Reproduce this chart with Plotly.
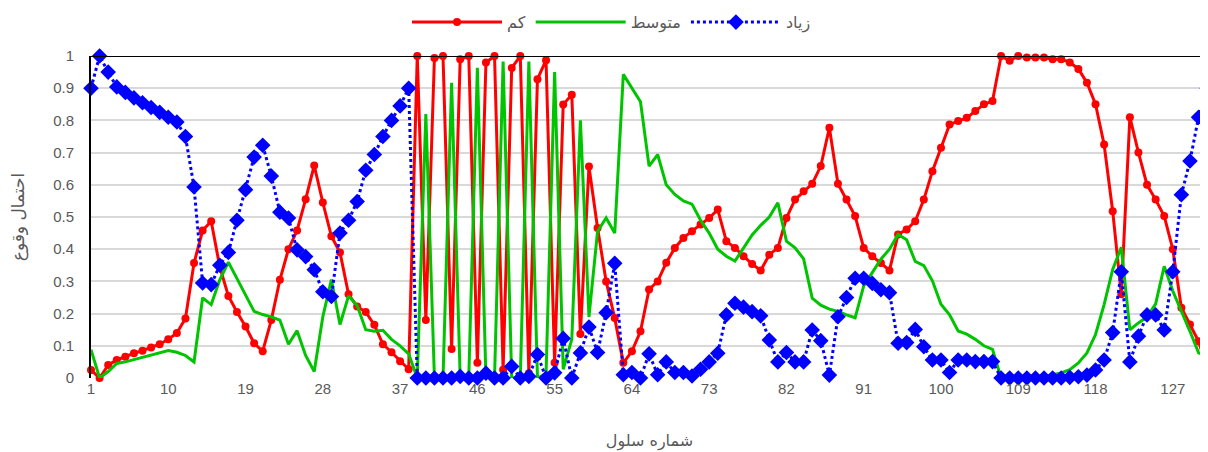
import plotly.graph_objects as go

cells = list(range(1, 132))

low = [0.025, 0.0, 0.04, 0.056, 0.066, 0.077, 0.085, 0.095, 0.105, 0.12,
       0.14, 0.185, 0.357, 0.458, 0.487, 0.345, 0.255, 0.205, 0.16, 0.108,
       0.083, 0.18, 0.305, 0.40, 0.458, 0.555, 0.66, 0.545, 0.44, 0.39,
       0.26, 0.222, 0.205, 0.165, 0.105, 0.08, 0.052, 0.027, 1.0, 0.18,
       0.994, 1.0, 0.09, 0.99, 1.0, 0.047, 0.98, 1.0, 0.026, 0.963,
       1.0, 0.015, 0.928, 0.987, 0.047, 0.849, 0.88, 0.137, 0.657, 0.466,
       0.30, 0.186, 0.047, 0.083, 0.145, 0.275, 0.30, 0.358, 0.404, 0.435,
       0.456, 0.477, 0.497, 0.523, 0.425, 0.404, 0.378, 0.354, 0.334, 0.383,
       0.404, 0.497, 0.554, 0.58, 0.603, 0.658, 0.777, 0.603, 0.554, 0.503,
       0.404, 0.378, 0.357, 0.334, 0.446, 0.461, 0.487, 0.554, 0.642, 0.715,
       0.787, 0.798, 0.808, 0.829, 0.85, 0.86, 1.0, 0.985, 1.0, 0.995,
       0.995, 0.995, 0.99, 0.99, 0.98, 0.96, 0.917, 0.85, 0.725, 0.518,
       0.26, 0.81, 0.70, 0.60, 0.554, 0.503, 0.40, 0.218, 0.166, 0.114,
       0.03]

medium = [0.088, 0.0, 0.02, 0.045, 0.05, 0.057, 0.062, 0.07, 0.078, 0.085,
          0.08, 0.07, 0.05, 0.249, 0.228, 0.305, 0.36, 0.31, 0.26, 0.207,
          0.197, 0.19, 0.18, 0.105, 0.147, 0.07, 0.02, 0.19, 0.306, 0.166,
          0.255, 0.225, 0.15, 0.145, 0.148, 0.12, 0.10, 0.075, 0.0, 0.82,
          0.0, 0.0, 0.917, 0.0, 0.0, 0.963, 0.0, 0.0, 0.983, 0.0,
          0.0, 0.983, 0.0, 0.013, 0.95, 0.027, 0.12, 0.80, 0.19, 0.456,
          0.497, 0.45, 0.943, 0.90, 0.858, 0.658, 0.694, 0.60, 0.57, 0.55,
          0.54, 0.49, 0.45, 0.40, 0.378, 0.363, 0.404, 0.444, 0.474, 0.50,
          0.544, 0.425, 0.404, 0.37, 0.248, 0.226, 0.214, 0.207, 0.196, 0.187,
          0.286, 0.328, 0.369, 0.40, 0.446, 0.429, 0.362, 0.349, 0.302, 0.229,
          0.196, 0.146, 0.136, 0.12, 0.10, 0.089, 0.0, 0.01, 0.0, 0.005,
          0.005, 0.005, 0.01, 0.016, 0.026, 0.047, 0.078, 0.135, 0.228, 0.337,
          0.406, 0.15, 0.171, 0.19, 0.23, 0.347, 0.27, 0.21, 0.145, 0.078,
          0.07]

high = [0.90, 1.0, 0.95, 0.904, 0.887, 0.87, 0.855, 0.84, 0.825, 0.81,
        0.795, 0.75, 0.593, 0.295, 0.29, 0.35, 0.39, 0.49, 0.585, 0.686,
        0.723, 0.627, 0.515, 0.497, 0.398, 0.377, 0.336, 0.268, 0.253, 0.45,
        0.49, 0.548, 0.645, 0.694, 0.75, 0.80, 0.845, 0.90, 0.0, 0.0,
        0.0, 0.0, 0.0, 0.005, 0.0, 0.0, 0.015, 0.0, 0.0, 0.036,
        0.0, 0.005, 0.073, 0.0, 0.016, 0.123, 0.0, 0.078, 0.158, 0.079,
        0.203, 0.356, 0.01, 0.017, 0.0, 0.075, 0.01, 0.05, 0.017, 0.017,
        0.006, 0.027, 0.05, 0.077, 0.196, 0.232, 0.22, 0.206, 0.193, 0.118,
        0.05, 0.079, 0.05, 0.05, 0.149, 0.116, 0.009, 0.19, 0.25, 0.31,
        0.31, 0.294, 0.274, 0.265, 0.108, 0.11, 0.151, 0.097, 0.056, 0.056,
        0.017, 0.056, 0.056, 0.051, 0.051, 0.051, 0.0, 0.0, 0.0, 0.0,
        0.0, 0.0, 0.0, 0.0, 0.002, 0.004, 0.009, 0.025, 0.056, 0.141,
        0.33, 0.05, 0.13, 0.196, 0.196, 0.149, 0.33, 0.569, 0.674, 0.81,
        0.90]

x_ticks = [1, 10, 19, 28, 37, 46, 55, 64, 73, 82, 91, 100, 109, 118, 127]
y_ticks = [0, 0.1, 0.2, 0.3, 0.4, 0.5, 0.6, 0.7, 0.8, 0.9, 1]
y_labels = ["0", "0.1", "0.2", "0.3", "0.4", "0.5", "0.6", "0.7", "0.8", "0.9", "1"]

name_low = "کم"
name_med = "متوسط"
name_high = "زیاد"
x_title = "شماره سلول"
y_title = "احتمال وقوع"

fig = go.Figure()
fig.add_trace(go.Scatter(
    x=cells, y=low, name=name_low, mode="lines+markers",
    line=dict(color="#FF0000", width=3),
    marker=dict(symbol="circle", size=8, color="#FF0000"),
    cliponaxis=False))
fig.add_trace(go.Scatter(
    x=cells, y=medium, name=name_med, mode="lines",
    line=dict(color="#00C400", width=3),
    cliponaxis=False))
fig.add_trace(go.Scatter(
    x=cells, y=high, name=name_high, mode="lines+markers",
    line=dict(color="#0000FF", width=3, dash="dot"),
    marker=dict(symbol="diamond", size=12, color="#0000FF"),
    cliponaxis=False))

fig.add_shape(type="line", xref="paper", yref="y", x0=0, x1=1, y0=1, y1=1,
              line=dict(color="black", width=2))

fig.update_layout(
    width=1200, height=444,
    margin=dict(l=83, r=0, t=48, b=74, autoexpand=False),
    plot_bgcolor="white", paper_bgcolor="white",
    font=dict(family="Liberation Sans Narrow, Liberation Sans, DejaVu Sans", color="#595959", size=15),
    showlegend=True,
    legend=dict(orientation="h", x=0.466, xanchor="center", y=1.105, yanchor="middle",
                font=dict(family="DejaVu Sans", size=16, color="#595959"),
                itemwidth=90, traceorder="normal", bgcolor="rgba(0,0,0,0)"),
    xaxis=dict(range=[1, 131.1], tickmode="array", tickvals=x_ticks,
               showgrid=False, zeroline=False, showline=False, ticks="",
               automargin=False,
               title=dict(text=x_title, font=dict(family="DejaVu Sans", size=16, color="#595959"), standoff=38),
               tickfont=dict(size=15, color="#595959")),
    yaxis=dict(range=[0, 1], tickmode="array", tickvals=y_ticks, ticktext=y_labels,
               showgrid=True, gridcolor="#D9D9D9", gridwidth=1.5,
               zeroline=False, showline=True, linecolor="black", linewidth=2,
               ticks="", ticklabelstandoff=12, automargin=False,
               title=dict(text=y_title, font=dict(family="DejaVu Sans", size=17, color="#595959"), standoff=26),
               tickfont=dict(size=15, color="#595959")),
)

fig.write_html("out.html")
